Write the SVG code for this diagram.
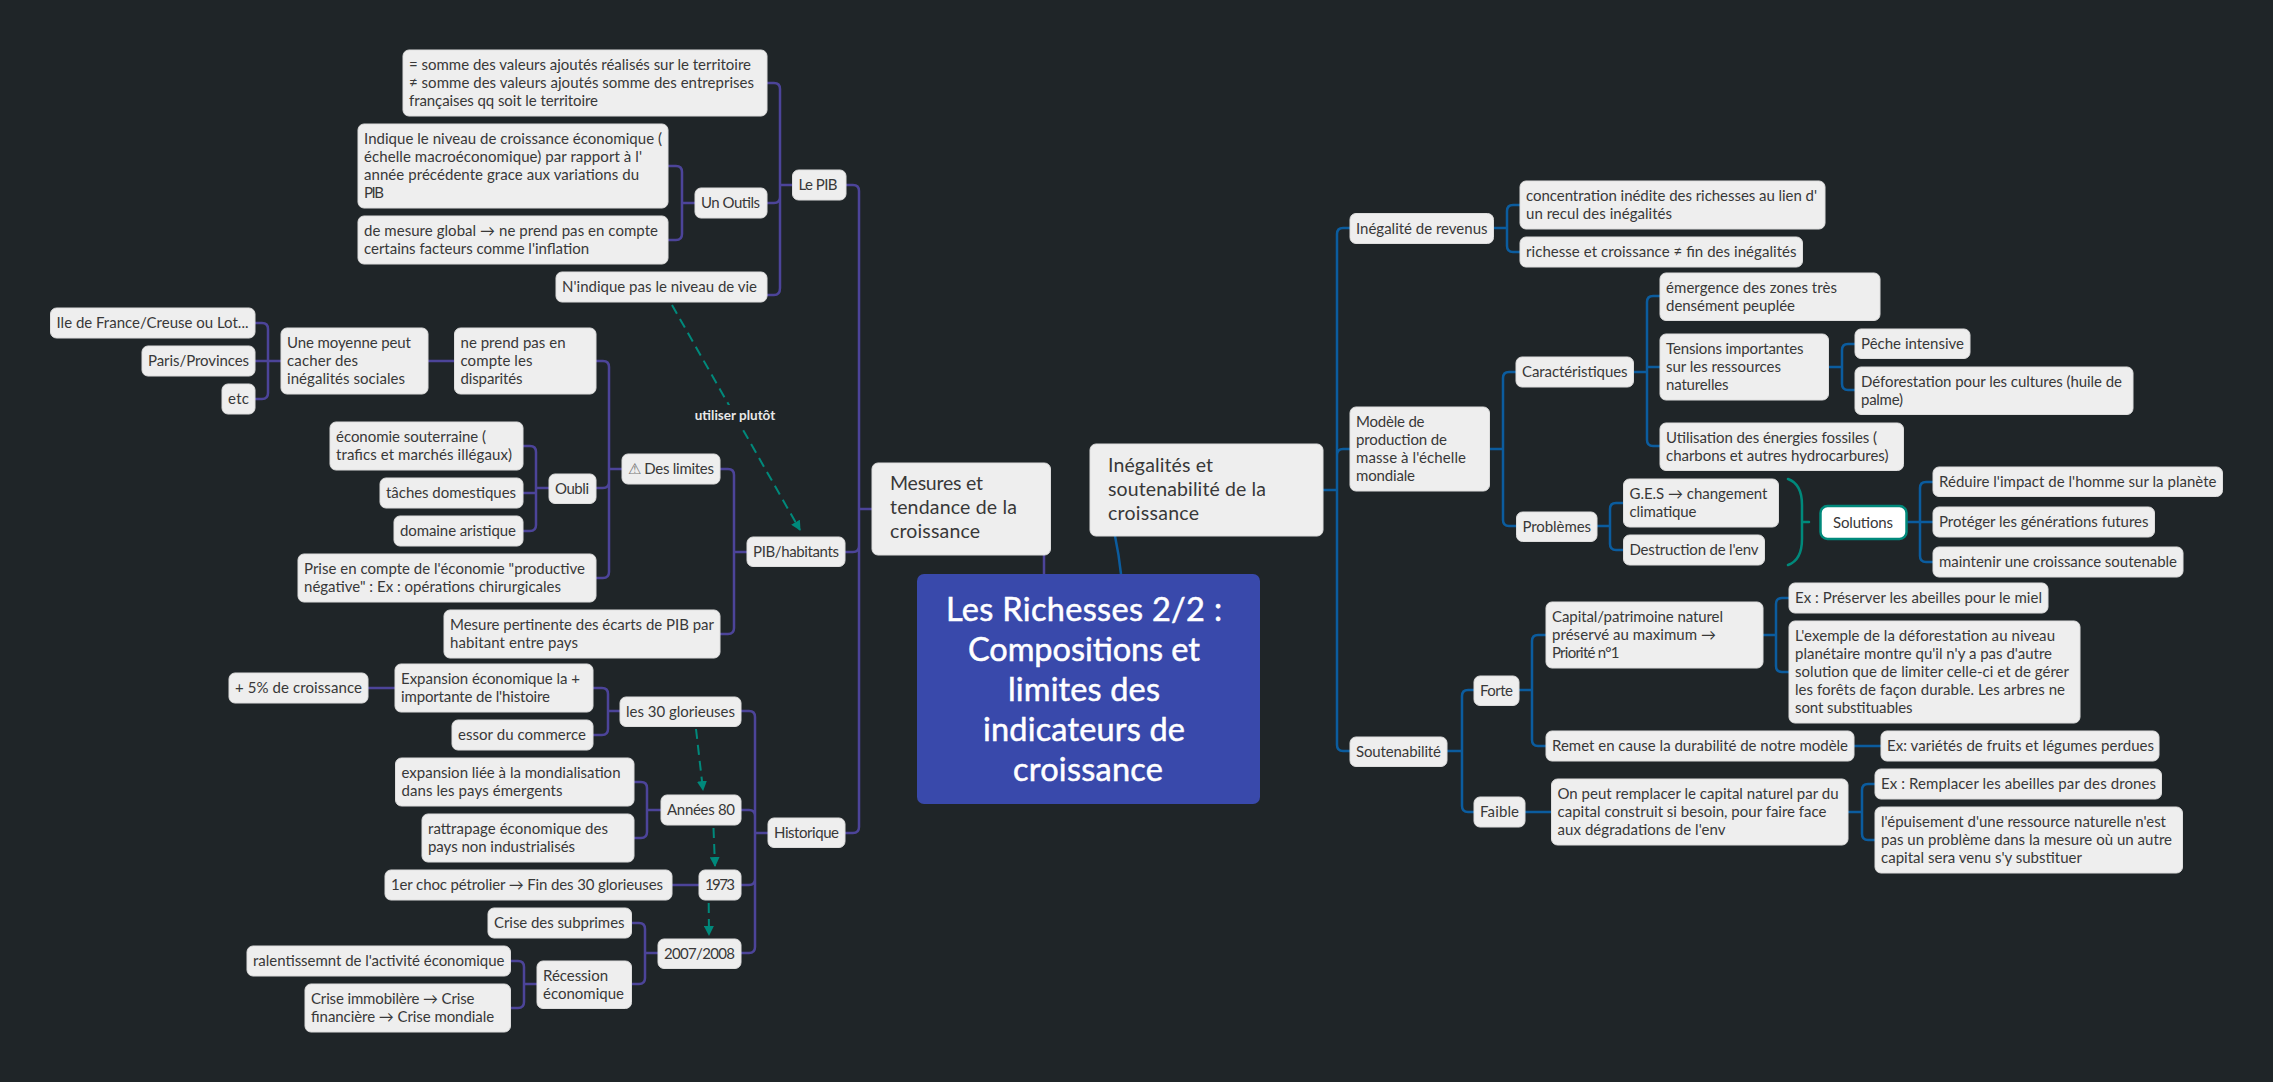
<svg xmlns="http://www.w3.org/2000/svg" width="2273" height="1082" viewBox="0 0 2273 1082">
<style>
text{font-family:"Lato","Noto Sans",sans-serif;font-size:15px;fill:#383838}
.n{fill:#eee;stroke:#ddd;stroke-width:1}
.p,.b,.t{fill:none;stroke-width:2.500;stroke-linecap:round}
.p{stroke:#4c4499}
.b{stroke:#0b5c9e}
.t{stroke:#00897b}
.d{fill:none;stroke:#00897b;stroke-width:2;stroke-dasharray:10 6}
.m text{font-size:19.500px}
.r text{font-size:32.500px;fill:#fff;stroke:#fff;stroke-width:.5;text-anchor:middle}
.lbl{font-size:13.500px;font-weight:700;fill:#e8e8e8;text-anchor:middle}
</style>
<defs><marker id="a" markerWidth="12" markerHeight="10" refX="9" refY="5" orient="auto" markerUnits="userSpaceOnUse"><path d="M0 0L10 5L0 10Z" fill="#00897b"/></marker></defs>
<rect width="2273" height="1082" fill="#1f2528"/>
<g id="connectors">
<path class="p" d="M1044 555V574M872 509H859M846 185H853Q859 185 859 191V827Q859 833 853 833H845M845 552H853Q859 552 859 546"/>
<path class="b" d="M1115 536Q1119 555 1121 574"/>
<path class="p" d="M792 185H780M767 83H774Q780 83 780 89V288Q780 295 774 295H767M767 203H774Q780 203 780 197M695 203H682M668 166H676Q682 166 682 172V234Q682 240 676 240H668"/>
<path class="p" d="M747 552H734M720 469H728Q734 469 734 475V628Q734 634 728 634H720M622 469H609M596 361H603Q609 361 609 367V572Q609 578 603 578H596M596 488H603Q609 488 609 482M549 488H536M523 446H530Q536 446 536 452V525Q536 531 530 531H523M523 493H536M428 361H454M281 361H255M255 323H262Q268 323 268 329V393Q268 399 262 399H255"/>
<path class="p" d="M768 833H755M741 711H749Q755 711 755 717V947Q755 953 749 953H741M741 810H749Q755 810 755 816M741 885H749Q755 885 755 879M620 711H608M593 688H602Q608 688 608 694V729Q608 735 602 735H593M368 688H395M661 810H647M634 782H641Q647 782 647 788V832Q647 838 641 838H634M672 885H699M658 953H645M632 923H639Q645 923 645 929V978Q645 984 639 984H632M537 984H524M511 961H518Q524 961 524 967V1002Q524 1008 518 1008H511"/>
<path class="b" d="M1323 490H1337M1350 228H1343Q1337 228 1337 234V745Q1337 751 1343 751H1350M1350 449H1343Q1337 449 1337 455"/>
<path class="b" d="M1494 228H1507M1520 205H1513Q1507 205 1507 211V246Q1507 252 1513 252H1520M1490 449H1503M1516 372H1509Q1503 372 1503 378V520Q1503 526 1509 526H1516M1634 372H1647M1660 296H1653Q1647 296 1647 302V440Q1647 446 1653 446H1660M1660 367H1647M1829 367H1842M1855 344H1848Q1842 344 1842 350V384Q1842 390 1848 390H1855M1597 526H1610M1624 503H1616Q1610 503 1610 509V544Q1610 550 1616 550H1624M1907 522H1933M1933 482H1926Q1920 482 1920 488V556Q1920 562 1926 562H1933"/>
<path class="b" d="M1447 751H1462M1474 690H1468Q1462 690 1462 696V806Q1462 812 1468 812H1474M1519 690H1532M1546 635H1538Q1532 635 1532 641V740Q1532 746 1538 746H1546M1763 635H1776M1789 598H1782Q1776 598 1776 604V666Q1776 672 1782 672H1789M1854 746H1881M1525 812H1552M1848 812H1862M1875 784H1868Q1862 784 1862 790V834Q1862 840 1868 840H1875"/>
<path class="t" d="M1788 479Q1802 484 1802 505V539Q1802 560 1788 565M1802 522H1809"/>
<path class="d" marker-end="url(#a)" d="M672 305L800 530"/>
<path class="d" marker-end="url(#a)" d="M696 729L703 790"/>
<path class="d" marker-end="url(#a)" d="M713.500 828L715 866"/>
<path class="d" marker-end="url(#a)" d="M708.700 903L709 935"/>
<rect x="695" y="405" width="80" height="21" fill="#1f2528"/>
<text class="lbl" x="735" y="420">utiliser plutôt</text>
</g>
<g id="root" class="r"><rect x="917" y="574" width="343" height="230" rx="7" fill="#3949ab" stroke="none"/><text x="1084" y="621" textLength="276">Les Richesses 2/2 :</text><text x="1084" y="661" textLength="232">Compositions et</text><text x="1084" y="701" textLength="152">limites des</text><text x="1084" y="741" textLength="202">indicateurs de</text><text x="1088" y="781" textLength="150">croissance</text></g>
<g id="mesures" class="m"><rect class="n" x="872" y="463" width="178.500" height="92" rx="6"/><text x="890" y="490" textLength="93">Mesures et</text><text x="890" y="514" textLength="127">tendance de la</text><text x="890" y="538" textLength="90">croissance</text></g>
<g id="inegalites" class="m"><rect class="n" x="1090" y="444" width="233" height="92" rx="6"/><text x="1108" y="472" textLength="105">Inégalités et</text><text x="1108" y="496" textLength="158">soutenabilité de la</text><text x="1108" y="520" textLength="91">croissance</text></g>
<g id="n1"><rect class="n" x="403" y="50" width="364" height="66" rx="6"/><text x="409" y="70" textLength="342">= somme des valeurs ajoutés réalisés sur le territoire</text><text x="409" y="88" textLength="345">≠ somme des valeurs ajoutés somme des entreprises</text><text x="409" y="106" textLength="189">françaises qq soit le territoire</text></g>
<g id="n2"><rect class="n" x="358" y="124" width="310" height="84" rx="6"/><text x="364" y="144" textLength="298">Indique le niveau de croissance économique (</text><text x="364" y="162" textLength="278">échelle macroéconomique) par rapport à l'</text><text x="364" y="180" textLength="275">année précédente grace aux variations du</text><text x="364" y="198" textLength="20">PIB</text></g>
<g id="n3"><rect class="n" x="358" y="216" width="310" height="48" rx="6"/><text x="364" y="236" textLength="294">de mesure global → ne prend pas en compte</text><text x="364" y="254" textLength="225">certains facteurs comme l'inflation</text></g>
<g id="n4"><rect class="n" x="695" y="188" width="72" height="30" rx="6"/><text x="701" y="208" textLength="59">Un Outils</text></g>
<g id="n5"><rect class="n" x="556" y="272" width="211" height="30" rx="6"/><text x="562" y="292" textLength="195">N'indique pas le niveau de vie</text></g>
<g id="n6"><rect class="n" x="792.500" y="170" width="53.500" height="30" rx="6"/><text x="798.500" y="190" textLength="39">Le PIB</text></g>
<g id="n7"><rect class="n" x="50.500" y="308" width="204.500" height="30" rx="6"/><text x="56.500" y="328" textLength="192">Ile de France/Creuse ou Lot...</text></g>
<g id="n8"><rect class="n" x="142" y="346" width="113" height="30" rx="6"/><text x="148" y="366" textLength="101">Paris/Provinces</text></g>
<g id="n9"><rect class="n" x="222" y="384" width="33" height="30" rx="6"/><text x="228" y="404" textLength="21">etc</text></g>
<g id="n10"><rect class="n" x="281" y="328" width="147" height="66" rx="6"/><text x="287" y="348" textLength="124">Une moyenne peut</text><text x="287" y="366" textLength="71">cacher des</text><text x="287" y="384" textLength="118">inégalités sociales</text></g>
<g id="n11"><rect class="n" x="454.500" y="328" width="141.500" height="66" rx="6"/><text x="460.500" y="348" textLength="105">ne prend pas en</text><text x="460.500" y="366" textLength="72">compte les</text><text x="460.500" y="384" textLength="62">disparités</text></g>
<g id="n12"><rect class="n" x="330" y="422" width="193" height="48" rx="6"/><text x="336" y="442" textLength="150">économie souterraine (</text><text x="336" y="460" textLength="176">trafics et marchés illégaux)</text></g>
<g id="n13"><rect class="n" x="380" y="478" width="143" height="30" rx="6"/><text x="386" y="498" textLength="130">tâches domestiques</text></g>
<g id="n14"><rect class="n" x="394" y="516" width="129" height="30" rx="6"/><text x="400" y="536" textLength="116">domaine aristique</text></g>
<g id="n15"><rect class="n" x="549" y="474" width="47" height="29.500" rx="6"/><text x="555" y="494" textLength="34">Oubli</text></g>
<g id="n16"><rect class="n" x="298" y="554" width="298" height="48" rx="6"/><text x="304" y="574" textLength="281">Prise en compte de l'économie "productive</text><text x="304" y="592" textLength="257">négative" : Ex : opérations chirurgicales</text></g>
<g id="n17"><rect class="n" x="622" y="454" width="98" height="30" rx="6"/><text x="628" y="474" textLength="86"><tspan fill="#777">⚠</tspan> Des limites</text></g>
<g id="n18"><rect class="n" x="444" y="610" width="276" height="48" rx="6"/><text x="450" y="630" textLength="264">Mesure pertinente des écarts de PIB par</text><text x="450" y="648" textLength="128">habitant entre pays</text></g>
<g id="n19"><rect class="n" x="747" y="537" width="98" height="29.500" rx="6"/><text x="753" y="557" textLength="86">PIB/habitants</text></g>
<g id="n20"><rect class="n" x="229" y="673" width="139" height="30" rx="6"/><text x="235" y="693" textLength="127">+ 5% de croissance</text></g>
<g id="n21"><rect class="n" x="395" y="664" width="198" height="48" rx="6"/><text x="401" y="684" textLength="179">Expansion économique la +</text><text x="401" y="702" textLength="149">importante de l'histoire</text></g>
<g id="n22"><rect class="n" x="452" y="720" width="141" height="30" rx="6"/><text x="458" y="740" textLength="128">essor du commerce</text></g>
<g id="n23"><rect class="n" x="620" y="697" width="121" height="29.500" rx="6"/><text x="626" y="717" textLength="109">les 30 glorieuses</text></g>
<g id="n24"><rect class="n" x="395.500" y="758" width="238.500" height="48" rx="6"/><text x="401.500" y="778" textLength="219">expansion liée à la mondialisation</text><text x="401.500" y="796" textLength="161">dans les pays émergents</text></g>
<g id="n25"><rect class="n" x="422" y="814" width="212" height="48" rx="6"/><text x="428" y="834" textLength="180">rattrapage économique des</text><text x="428" y="852" textLength="147">pays non industrialisés</text></g>
<g id="n26"><rect class="n" x="661" y="795" width="80" height="30" rx="6"/><text x="667" y="815" textLength="68">Années 80</text></g>
<g id="n27"><rect class="n" x="385" y="870" width="287" height="30" rx="6"/><text x="391" y="890" textLength="272">1er choc pétrolier → Fin des 30 glorieuses</text></g>
<g id="n28"><rect class="n" x="699" y="870" width="42" height="30" rx="6"/><text x="705" y="890" textLength="30">1973</text></g>
<g id="n29"><rect class="n" x="488" y="908" width="143.500" height="30" rx="6"/><text x="494" y="928" textLength="130.500">Crise des subprimes</text></g>
<g id="n30"><rect class="n" x="658" y="939" width="83" height="29.500" rx="6"/><text x="664" y="959" textLength="71">2007/2008</text></g>
<g id="n31"><rect class="n" x="247" y="946" width="263.500" height="30" rx="6"/><text x="253" y="966" textLength="251.500">ralentissemnt de l'activité économique</text></g>
<g id="n32"><rect class="n" x="305" y="984" width="205.500" height="48" rx="6"/><text x="311" y="1004" textLength="163.500">Crise immobilère → Crise</text><text x="311" y="1022" textLength="183">financière → Crise mondiale</text></g>
<g id="n33"><rect class="n" x="537" y="961" width="94.500" height="47.500" rx="6"/><text x="543" y="981" textLength="65">Récession</text><text x="543" y="999" textLength="81">économique</text></g>
<g id="n34"><rect class="n" x="768" y="818" width="77" height="29.500" rx="6"/><text x="774" y="838" textLength="65">Historique</text></g>
<g id="n35"><rect class="n" x="1350" y="213.500" width="143.500" height="30" rx="6"/><text x="1356" y="233.500" textLength="131.500">Inégalité de revenus</text></g>
<g id="n36"><rect class="n" x="1520" y="181" width="305" height="48" rx="6"/><text x="1526" y="201" textLength="291">concentration inédite des richesses au lien d'</text><text x="1526" y="219" textLength="146">un recul des inégalités</text></g>
<g id="n37"><rect class="n" x="1520" y="237" width="282.500" height="30" rx="6"/><text x="1526" y="257" textLength="270.500">richesse et croissance ≠ fin des inégalités</text></g>
<g id="n38"><rect class="n" x="1660" y="273" width="220" height="47.500" rx="6"/><text x="1666" y="293" textLength="171">émergence des zones très</text><text x="1666" y="311" textLength="129">densément peuplée</text></g>
<g id="n39"><rect class="n" x="1660" y="334" width="168.500" height="66" rx="6"/><text x="1666" y="354" textLength="137.500">Tensions importantes</text><text x="1666" y="372" textLength="115">sur les ressources</text><text x="1666" y="390" textLength="62.500">naturelles</text></g>
<g id="n40"><rect class="n" x="1516" y="357" width="117.500" height="30" rx="6"/><text x="1522" y="377" textLength="105.500">Caractéristiques</text></g>
<g id="n41"><rect class="n" x="1350" y="407" width="139.500" height="84" rx="6"/><text x="1356" y="427" textLength="68.500">Modèle de</text><text x="1356" y="445" textLength="91">production de</text><text x="1356" y="463" textLength="110">masse à l'échelle</text><text x="1356" y="481" textLength="59">mondiale</text></g>
<g id="n42"><rect class="n" x="1855" y="329" width="115" height="29.500" rx="6"/><text x="1861" y="349" textLength="103">Pêche intensive</text></g>
<g id="n43"><rect class="n" x="1855" y="367" width="278" height="47.500" rx="6"/><text x="1861" y="387" textLength="261">Déforestation pour les cultures (huile de</text><text x="1861" y="405" textLength="42">palme)</text></g>
<g id="n44"><rect class="n" x="1660" y="423" width="243.500" height="47.500" rx="6"/><text x="1666" y="443" textLength="211">Utilisation des énergies fossiles (</text><text x="1666" y="461" textLength="222.500">charbons et autres hydrocarbures)</text></g>
<g id="n45"><rect class="n" x="1516.500" y="512" width="80.500" height="29.500" rx="6"/><text x="1522.500" y="532" textLength="68.500">Problèmes</text></g>
<g id="n46"><rect class="n" x="1623.500" y="479" width="155" height="48" rx="6"/><text x="1629.500" y="499" textLength="138">G.E.S → changement</text><text x="1629.500" y="517" textLength="67">climatique</text></g>
<g id="n47"><rect class="n" x="1623.500" y="535" width="141" height="30" rx="6"/><text x="1629.500" y="555" textLength="129">Destruction de l'env</text></g>
<g id="n48"><rect x="1820.500" y="506" width="86" height="33" rx="7" fill="#fff" stroke="#00897b" stroke-width="2.500"/><text x="1833" y="528" textLength="60">Solutions</text></g>
<g id="n49"><rect class="n" x="1933" y="467" width="289.500" height="29.500" rx="6"/><text x="1939" y="487" textLength="277.500">Réduire l'impact de l'homme sur la planète</text></g>
<g id="n50"><rect class="n" x="1933" y="507" width="221.500" height="30" rx="6"/><text x="1939" y="527" textLength="209.500">Protéger les générations futures</text></g>
<g id="n51"><rect class="n" x="1933" y="547" width="250" height="30" rx="6"/><text x="1939" y="567" textLength="238">maintenir une croissance soutenable</text></g>
<g id="n52"><rect class="n" x="1546" y="602" width="217" height="66" rx="6"/><text x="1552" y="622" textLength="171">Capital/patrimoine naturel</text><text x="1552" y="640" textLength="164">préservé au maximum →</text><text x="1552" y="658" textLength="67.500">Priorité n°1</text></g>
<g id="n53"><rect class="n" x="1789" y="583" width="259" height="30" rx="6"/><text x="1795" y="603" textLength="247">Ex : Préserver les abeilles pour le miel</text></g>
<g id="n54"><rect class="n" x="1789" y="621" width="291" height="102" rx="6"/><text x="1795" y="641" textLength="260">L'exemple de la déforestation au niveau</text><text x="1795" y="659" textLength="257">planétaire montre qu'il n'y a pas d'autre</text><text x="1795" y="677" textLength="274">solution que de limiter celle-ci et de gérer</text><text x="1795" y="695" textLength="270">les forêts de façon durable. Les arbres ne</text><text x="1795" y="713" textLength="117.500">sont substituables</text></g>
<g id="n55"><rect class="n" x="1350" y="737" width="97" height="29.500" rx="6"/><text x="1356" y="757" textLength="85">Soutenabilité</text></g>
<g id="n56"><rect class="n" x="1474" y="676" width="45" height="29.500" rx="6"/><text x="1480" y="696" textLength="33">Forte</text></g>
<g id="n57"><rect class="n" x="1474" y="797" width="51" height="30" rx="6"/><text x="1480" y="817" textLength="39">Faible</text></g>
<g id="n58"><rect class="n" x="1546" y="731" width="308" height="30" rx="6"/><text x="1552" y="751" textLength="296">Remet en cause la durabilité de notre modèle</text></g>
<g id="n59"><rect class="n" x="1881" y="731" width="278" height="30" rx="6"/><text x="1887" y="751" textLength="267">Ex: variétés de fruits et légumes perdues</text></g>
<g id="n60"><rect class="n" x="1551.500" y="779" width="296.500" height="66" rx="6"/><text x="1557.500" y="799" textLength="281">On peut remplacer le capital naturel par du</text><text x="1557.500" y="817" textLength="269">capital construit si besoin, pour faire face</text><text x="1557.500" y="835" textLength="168">aux dégradations de l'env</text></g>
<g id="n61"><rect class="n" x="1875" y="769" width="286.500" height="30" rx="6"/><text x="1881" y="789" textLength="275">Ex : Remplacer les abeilles par des drones</text></g>
<g id="n62"><rect class="n" x="1875" y="807" width="307.500" height="66" rx="6"/><text x="1881" y="827" textLength="285">l'épuisement d'une ressource naturelle n'est</text><text x="1881" y="845" textLength="291">pas un problème dans la mesure où un autre</text><text x="1881" y="863" textLength="201">capital sera venu s'y substituer</text></g>
</svg>
